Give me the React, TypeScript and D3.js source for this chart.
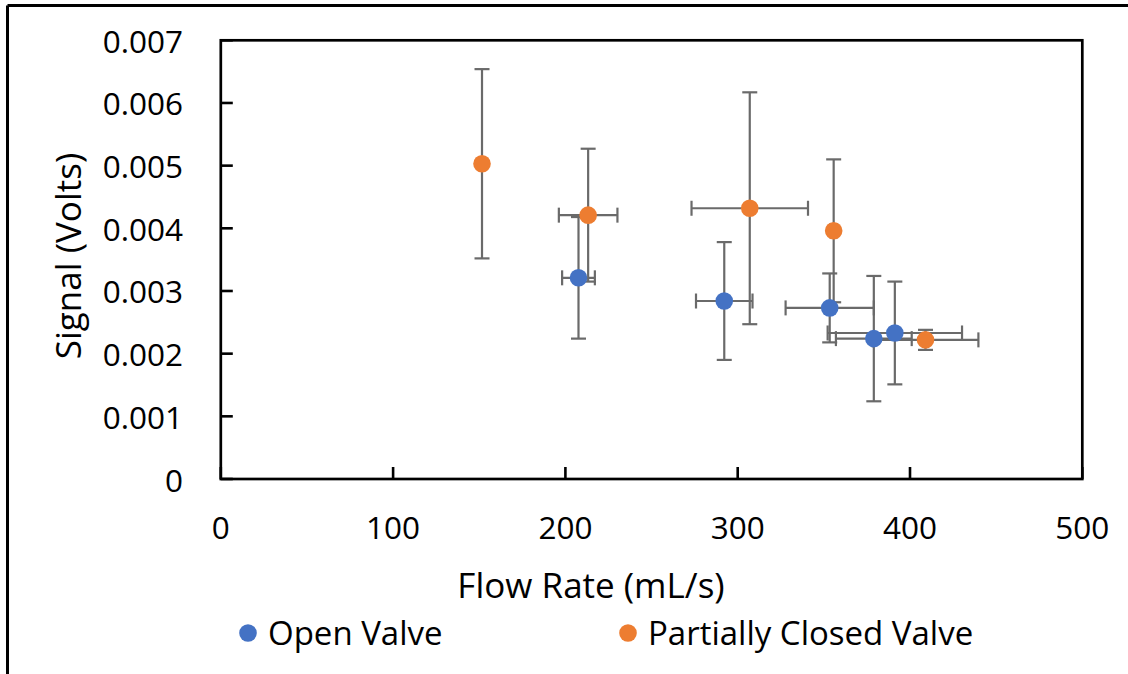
import React from "react";
import * as d3 from "d3";

const openX = [207.6, 292.2, 353.4, 379, 391.2];
const openY = [0.00321, 0.00284, 0.00273, 0.00224, 0.00233];
const openXErr = [9.5, 16.4, 25.6, 22, 39];
const openYErr = [0.00097, 0.00094, 0.00055, 0.001, 0.00082];

const partX = [151.6, 213.2, 307, 355.7, 409];
const partY = [0.00503, 0.00421, 0.00432, 0.00396, 0.00222];
const partXErr = [0, 17, 33.8, 2, 30.7];
const partYErr = [0.00151, 0.00106, 0.00185, 0.00114, 0.00016];

const xTicks = [0, 100, 200, 300, 400, 500];
const yTicks = [0, 0.001, 0.002, 0.003, 0.004, 0.005, 0.006, 0.007];

const seriesNames = ["Open Valve", "Partially Closed Valve"];
const colors = ["#4472C4", "#ED7D31"];

const W = 1128;
const H = 674;
const FONT = "'Open Sans', sans-serif";

export default function App() {
  const x = d3.scaleLinear().domain([0, 500]).range([220.8, 1082.3]);
  const y = d3.scaleLinear().domain([0, 0.007]).range([479, 40.3]);

  const series = [
    { xs: openX, ys: openY, xe: openXErr, ye: openYErr, color: colors[0] },
    { xs: partX, ys: partY, xe: partXErr, ye: partYErr, color: colors[1] },
  ];

  const cap = 7.5;
  const errColor = "#6a6a6a";
  const errW = 2.2;

  const errorBars: JSX.Element[] = [];
  series.forEach((s, si) => {
    s.xs.forEach((xv, i) => {
      const cx = x(xv);
      const cy = y(s.ys[i]);
      const y0 = y(s.ys[i] - s.ye[i]);
      const y1 = y(s.ys[i] + s.ye[i]);
      errorBars.push(
        <g key={`ey-${si}-${i}`} stroke={errColor} strokeWidth={errW}>
          <line x1={cx} x2={cx} y1={y0} y2={y1} />
          <line x1={cx - cap} x2={cx + cap} y1={y0} y2={y0} />
          <line x1={cx - cap} x2={cx + cap} y1={y1} y2={y1} />
        </g>
      );
      if (s.xe[i] > 0) {
        const x0 = x(xv - s.xe[i]);
        const x1 = x(xv + s.xe[i]);
        errorBars.push(
          <g key={`ex-${si}-${i}`} stroke={errColor} strokeWidth={errW}>
            <line x1={x0} x2={x1} y1={cy} y2={cy} />
            <line x1={x0} x2={x0} y1={cy - cap} y2={cy + cap} />
            <line x1={x1} x2={x1} y1={cy - cap} y2={cy + cap} />
          </g>
        );
      }
    });
  });

  const [xl, xr] = x.range();
  const [yb, yt] = y.range();

  return (
    <div style={{ position: "absolute", left: 0, top: 0 }}>
      <svg width={W} height={H} style={{ display: "block" }}>
        <rect x={0} y={0} width={W} height={H} fill="#ffffff" />
        {/* outer frame */}
        <line x1={7.5} x2={W} y1={5.5} y2={5.5} stroke="#000" strokeWidth={3} />
        <line x1={7.5} x2={7.5} y1={5.5} y2={H} stroke="#000" strokeWidth={3} />

        {/* ticks */}
        {yTicks.map((t) => (
          <g key={`yt-${t}`}>
            <line x1={xl} x2={xl + 12} y1={y(t)} y2={y(t)} stroke="#000" strokeWidth={2.6} />
            <text
              x={183}
              y={y(t)}
              textAnchor="end"
              dominantBaseline="central"
              fontFamily={FONT}
              fontSize={31.5}
              fill="#000"
            >
              {t === 0 ? "0" : d3.format(".3f")(t)}
            </text>
          </g>
        ))}
        {xTicks.map((t) => (
          <g key={`xt-${t}`}>
            <line x1={x(t)} x2={x(t)} y1={yb} y2={yb - 12} stroke="#000" strokeWidth={2.6} />
            <text
              x={x(t)}
              y={539}
              textAnchor="middle"
              fontFamily={FONT}
              fontSize={31.5}
              fill="#000"
            >
              {t}
            </text>
          </g>
        ))}

        {/* plot box */}
        <rect
          x={xl}
          y={yt}
          width={xr - xl}
          height={yb - yt}
          fill="none"
          stroke="#000"
          strokeWidth={2.7}
        />

        {errorBars}

        {series.map((s, si) =>
          s.xs.map((xv, i) => (
            <circle key={`m-${si}-${i}`} cx={x(xv)} cy={y(s.ys[i])} r={8.8} fill={s.color} />
          ))
        )}

        {/* axis titles */}
        <text
          transform={`translate(81, 256) rotate(-90)`}
          textAnchor="middle"
          fontFamily={FONT}
          fontSize={35}
          fill="#000"
        >
          Signal (Volts)
        </text>
        <text
          x={591}
          y={598}
          textAnchor="middle"
          fontFamily={FONT}
          fontSize={35}
          fill="#000"
        >
          Flow Rate (mL/s)
        </text>

        {/* legend */}
        <circle cx={248} cy={633} r={8.8} fill={colors[0]} />
        <text x={268} y={645} fontFamily={FONT} fontSize={33} fill="#000">
          {seriesNames[0]}
        </text>
        <circle cx={628} cy={633} r={8.8} fill={colors[1]} />
        <text x={648} y={645} fontFamily={FONT} fontSize={33} fill="#000">
          {seriesNames[1]}
        </text>
      </svg>
    </div>
  );
}
